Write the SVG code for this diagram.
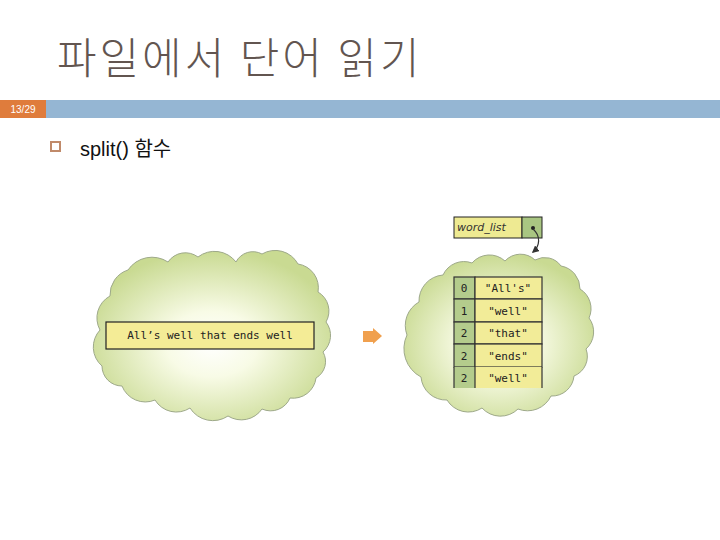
<svg xmlns="http://www.w3.org/2000/svg" width="720" height="540" viewBox="0 0 720 540">
<defs>
<radialGradient id="cg" cx="50%" cy="55%" r="55%">
<stop offset="0" stop-color="#ffffff"/>
<stop offset="0.35" stop-color="#f8fbe6"/>
<stop offset="1" stop-color="#c9da92"/>
</radialGradient>
<marker id="ah" viewBox="0 0 10 10" refX="8" refY="5" markerWidth="6" markerHeight="6" orient="auto">
<path d="M0,0 L10,5 L0,10 Z" fill="#333"/>
</marker>
<style>
.cloud{fill:url(#cg);stroke:#9ea98a;stroke-width:1}
.mono{font-family:"DejaVu Sans Mono","Liberation Mono",monospace;fill:#222}
.idx{fill:#b4cc8c;stroke:#333;stroke-width:1.2}
.val{fill:#f2ec98;stroke:#333;stroke-width:1.2}
</style>
</defs>
<rect width="720" height="540" fill="#ffffff"/>
<g id="title">
<text x="57" y="74" font-family="'Noto Sans CJK KR', sans-serif" font-size="43" font-weight="200" letter-spacing="3" fill="#625550">파일에서 단어 읽기</text>
</g>
<g id="header-bar">
<rect x="46" y="100" width="674" height="18" fill="#95b6d3"/>
<rect x="0" y="100" width="46" height="18" fill="#df7c3c"/>
<text x="23" y="113" text-anchor="middle" font-family="'Liberation Sans', sans-serif" font-size="10" fill="#ffffff">13/29</text>
</g>
<g id="bullet">
<rect x="51" y="142" width="9" height="9" fill="#ffffff" stroke="#c08a6a" stroke-width="2"/>
<text x="80" y="156" font-family="'Liberation Sans', 'Noto Sans CJK KR', sans-serif" font-size="20" fill="#111">split() 함수</text>
</g>
<g id="left-cloud">
<path class="cloud" d="M100,330 A25,25 0 0 1 110,296 A26,26 0 0 1 128,270 A29,29 0 0 1 168,262 A21,21 0 0 1 198,257 A27,27 0 0 1 236,262 A19,19 0 0 1 262,254 A26,26 0 0 1 298,264 A24,24 0 0 1 318,292 A22,22 0 0 1 326,322 A22,22 0 0 1 323,352 A19,19 0 0 1 316,378 A23,23 0 0 1 290,398 A21,21 0 0 1 262,409 A25,25 0 0 1 228,416 A27,27 0 0 1 190,408 A25,25 0 0 1 155,400 A25,25 0 0 1 122,386 A20,20 0 0 1 102,366 A25,25 0 0 1 100,330 Z"/>
</g>
<g id="sentence">
<rect x="106" y="322" width="208" height="27" fill="#f4ec96" stroke="#222" stroke-width="1.2"/>
<text class="mono" x="210" y="339" text-anchor="middle" font-size="11">All’s well that ends well</text>
</g>
<g id="arrow">
<path d="M363,331 L373,331 L373,328 L382,336 L373,344 L373,342 L363,342 Z" fill="#f0a04e"/>
</g>
<g id="right-cloud">
<path class="cloud" d="M407,335 A27,27 0 0 1 419,302 A26,26 0 0 1 443,275 A23,23 0 0 1 472,263 A23,23 0 0 1 505,261 A21,21 0 0 1 535,260 A20,20 0 0 1 561,266 A23,23 0 0 1 580,289 A23,23 0 0 1 589,318 A23,23 0 0 1 586,349 A21,21 0 0 1 574,376 A22,22 0 0 1 551,396 A26,26 0 0 1 518,409 A25,25 0 0 1 482,408 A25,25 0 0 1 447,400 A25,25 0 0 1 421,377 A32,32 0 0 1 407,335 Z"/>
</g>
<g id="word-list">
<rect x="454" y="217" width="68" height="21" fill="#eeea92" stroke="#222" stroke-width="1"/>
<rect x="522" y="217" width="20" height="21" fill="#a9c682" stroke="#222" stroke-width="1"/>
<text x="457" y="231" font-family="'DejaVu Sans', sans-serif" font-style="italic" font-size="11" fill="#333">word_list</text>
<circle cx="533" cy="228" r="2" fill="#222"/>
</g>
<g id="list-table">
<rect class="idx" x="454" y="277" width="21" height="22"/>
<rect class="val" x="475" y="277" width="67" height="22"/>
<rect class="idx" x="454" y="299" width="21" height="23"/>
<rect class="val" x="475" y="299" width="67" height="23"/>
<rect class="idx" x="454" y="322" width="21" height="22"/>
<rect class="val" x="475" y="322" width="67" height="22"/>
<rect class="idx" x="454" y="344" width="21" height="23"/>
<rect class="val" x="475" y="344" width="67" height="23"/>
<rect x="454" y="367" width="21" height="21" fill="#b4cc8c"/>
<rect x="475" y="367" width="67" height="21" fill="#f2ec98"/>
<path d="M454,367 V388 M475,367 V388 M542,367 V388" stroke="#333" stroke-width="1.2" fill="none"/>
<g class="mono" font-size="11">
<text x="464" y="292" text-anchor="middle">0</text>
<text x="464" y="315" text-anchor="middle">1</text>
<text x="464" y="337" text-anchor="middle">2</text>
<text x="464" y="360" text-anchor="middle">2</text>
<text x="464" y="382" text-anchor="middle">2</text>
<text x="508" y="292" text-anchor="middle">"All's"</text>
<text x="508" y="315" text-anchor="middle">"well"</text>
<text x="508" y="337" text-anchor="middle">"that"</text>
<text x="508" y="360" text-anchor="middle">"ends"</text>
<text x="508" y="382" text-anchor="middle">"well"</text>
</g>
</g>
<g id="connectors">
<path d="M533,229 C541,236 540,246 533,252" fill="none" stroke="#333" stroke-width="1.2" marker-end="url(#ah)"/>
</g>
</svg>
